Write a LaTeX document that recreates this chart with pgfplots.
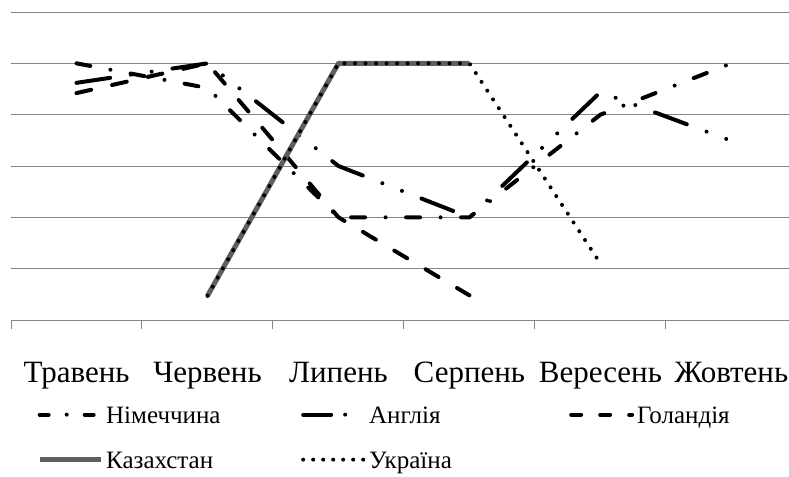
\documentclass[border=0pt]{standalone}
\usepackage{fontspec}
\setmainfont{Liberation Serif}
\usepackage{pgfplots}
\pgfplotsset{compat=1.18}
\definecolor{gridgray}{RGB}{134,134,134}
\definecolor{kzgray}{RGB}{95,95,95}
\newcommand{\LE}[2]{\makebox[#1][l]{\hspace*{3bp}#2}}
\begin{document}
\begin{tikzpicture}
\begin{axis}[
  at={(11bp,157bp)}, anchor=south west,
  scale only axis, width=778bp, height=308bp,
  xmin=-0.5, xmax=5.44, ymin=0, ymax=6,
  axis x line*=bottom, axis y line*=left,
  x axis line style={draw=gridgray, line width=1bp, -},
  y axis line style={draw=none},
  xtick={0,...,5},
  xticklabels={Травень,Червень,Липень,Серпень,Вересень,Жовтень},
  minor xtick={-0.5,0.5,1.5,2.5,3.5,4.5},
  major x tick style={draw=none},
  minor x tick style={draw=gridgray, line width=1bp},
  minor tick length=9bp,
  tick align=outside,
  ytick={1,...,6}, yticklabels={}, major y tick style={draw=none},
  ymajorgrids, grid style={draw=gridgray, line width=1bp},
  xticklabel style={font=\fontsize{31bp}{36bp}\selectfont, anchor=base, yshift=-58bp},
  legend columns=3,
  legend image code/.code={\draw[#1] (0bp,0bp) -- (61bp,0bp);},
  legend style={at={(axis description cs:0.0334,-0.266)}, anchor=north west,
    draw=none, fill=none, inner sep=0pt, column sep=0pt, row sep=20bp,
    font=\fontsize{25bp}{29bp}\selectfont,
    nodes={inner sep=0pt, text height=21bp, text depth=4bp}},
  legend cell align=left,
]
% data (no y-axis labels in the original; values on a 0-6 gridline scale)
\addplot[forget plot, black, line width=4bp, line cap=round, dash pattern=on 14bp off 20.5bp on 0bp off 20.5bp]
  coordinates {(0,5.0) (1,4.52) (2,2.0) (3,2.0) (4,4.0) (5,5.0)};
\addplot[forget plot, black, line width=4bp, line cap=round, dash pattern=on 34bp off 21bp on 0bp off 21bp on 0bp off 21bp]
  coordinates {(0,4.62) (1,5.0) (2,3.0) (3,2.0) (4,4.44) (5,3.49)};
\addplot[forget plot, black, line width=4bp, line cap=round, dash pattern=on 15bp off 21.5bp]
  coordinates {(0,4.42) (1,5.0) (2,2.0) (3,0.48)};
\addplot[forget plot, kzgray, line width=5bp, line join=round]
  coordinates {(1,0.47) (2,5.0) (3,5.0)};
\addplot[forget plot, black, line width=4bp, line cap=round, dash pattern=on 0bp off 10.5bp]
  coordinates {(1,0.47) (2,5.0) (3,5.0) (4,1.1)};
% legend
\addlegendimage{black, line width=4bp, line cap=round, dash pattern=on 9bp off 18bp on 0bp off 18bp}
\addlegendentry{\LE{198bp}{Німеччина}}
\addlegendimage{black, line width=4bp, line cap=round, dash pattern=on 28bp off 14bp on 0bp off 30bp}
\addlegendentry{\LE{203bp}{Англія}}
\addlegendimage{black, line width=4bp, line cap=round, dash pattern=on 10bp off 19bp}
\addlegendentry{\LE{120bp}{Голандія}}
\addlegendimage{kzgray, line width=5bp}
\addlegendentry{\LE{198bp}{Казахстан}}
\addlegendimage{black, line width=4bp, line cap=round, dash pattern=on 0bp off 10bp}
\addlegendentry{\LE{203bp}{Україна}}
\end{axis}
\pgfresetboundingbox
\path[use as bounding box] (0bp,0bp) rectangle (789bp,477bp);
\end{tikzpicture}
\end{document}
